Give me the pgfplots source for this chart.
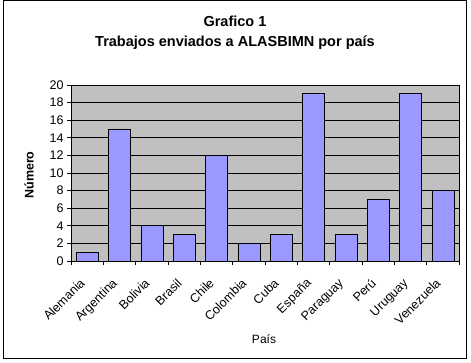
\documentclass[border=0pt]{standalone}
\usepackage{pgfplots}
\pgfplotsset{compat=1.18}
\usepackage{fontspec}
\setmainfont{Liberation Sans}
\definecolor{barblue}{HTML}{9999FF}
\definecolor{plotgray}{HTML}{C0C0C0}
\begin{document}
\begin{tikzpicture}[x=1pt,y=1pt]
\useasboundingbox (0,0) rectangle (471,363);
\draw[line width=1pt,fill=white] (3,4) rectangle (466,362);
\node[font=\bfseries\fontsize{14.5}{16}\selectfont] at (235,342) {Grafico 1};
\node[font=\bfseries\fontsize{14.5}{16}\selectfont] at (235,320) {Trabajos enviados a ALASBIMN por país};
\node[font=\bfseries\fontsize{12.5}{14}\selectfont, rotate=90] at (29,188) {Número};
\node[font=\fontsize{12}{14}\selectfont] at (264,24) {País};
\begin{axis}[
  at={(71pt,102pt)}, anchor=south west,
  scale only axis, width=388pt, height=176pt,
  xmin=-0.5, xmax=11.5, ymin=0, ymax=20,
  axis background/.style={fill=plotgray},
  axis line style={black, line width=0.6pt},
  ytick={0,2,...,20},
  ymajorgrids, grid style={black, line width=0.6pt},
  y tick label style={font=\fontsize{12.5}{14}\selectfont},
  /pgf/number format/assume math mode=true,
  xtick={0,...,11},
  xticklabels={Alemania,Argentina,Bolivia,Brasil,Chile,Colombia,Cuba,España,Paraguay,Perú,Uruguay,Venezuela},
  x tick label style={font=\fontsize{12.5}{14}\selectfont, xshift=-8pt, yshift=-11pt, rotate=45, anchor=north east, inner sep=1pt},
  major x tick style={draw=none},
  minor xtick={-0.5,0.5,...,11.5},
  minor tick length=4pt, major tick length=4pt,
  tick align=outside, xtick pos=bottom, ytick pos=left,
  tick style={black, line width=0.6pt},
  ybar, bar width=22pt,
]
\addplot[fill=barblue, draw=black, line width=0.6pt] coordinates {
(0,1) (1,15) (2,4) (3,3) (4,12) (5,2) (6,3) (7,19) (8,3) (9,7) (10,19) (11,8)};
\end{axis}
\end{tikzpicture}
\end{document}
